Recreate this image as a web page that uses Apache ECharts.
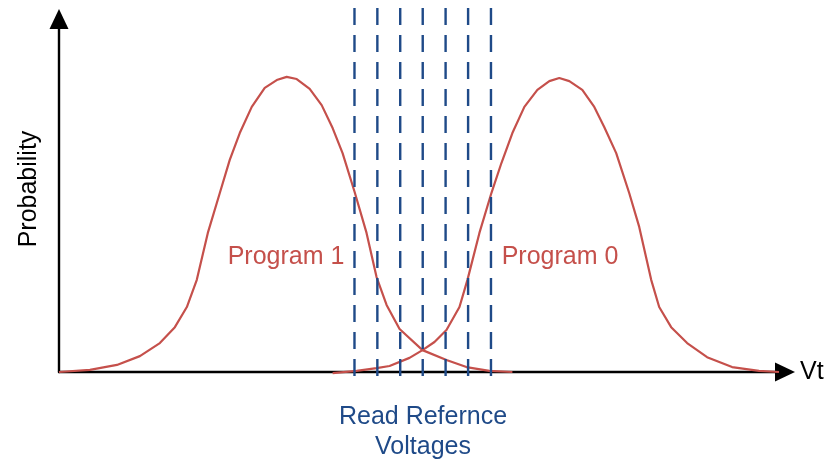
<!DOCTYPE html>
<html>
<head>
<meta charset="utf-8">
<script src="https://cdn.jsdelivr.net/npm/echarts@6/dist/echarts.min.js"></script>
<style>
  html, body { margin: 0; padding: 0; background: #fff; }
  #main { width: 840px; height: 463px; }
</style>
</head>
<body>
<div id="main"></div>
<script>
// Vt on a 0..100 scale, probability on 0..1
let program1 = [
    [0, 0], [4.26, 0.006], [7.98, 0.020], [11.14, 0.045], [13.89, 0.082], [15.96, 0.127],
    [17.61, 0.184], [18.98, 0.261], [20.50, 0.394], [22.15, 0.507], [23.52, 0.601],
    [24.90, 0.677], [26.55, 0.751], [28.34, 0.805], [29.99, 0.827], [31.36, 0.836],
    [32.74, 0.830], [34.53, 0.802], [36.18, 0.756], [37.69, 0.691], [39.06, 0.620],
    [40.72, 0.510], [42.36, 0.394], [43.74, 0.269], [45.12, 0.190], [46.91, 0.122],
    [50.07, 0.062], [53.37, 0.034], [56.12, 0.014], [59.28, 0.003], [62.45, 0]
];
let program0 = [
    [37.69, -0.003], [40.99, 0.003], [43.74, 0.011], [45.53, 0.017], [48.28, 0.040],
    [50.07, 0.062], [51.72, 0.085], [53.37, 0.119], [55.16, 0.184], [56.26, 0.261],
    [57.91, 0.394], [59.56, 0.507], [60.94, 0.592], [62.45, 0.677], [64.10, 0.751],
    [65.89, 0.799], [67.54, 0.824], [68.91, 0.833], [70.29, 0.824], [72.08, 0.799],
    [73.73, 0.751], [75.10, 0.694], [76.75, 0.620], [78.54, 0.507], [79.92, 0.411],
    [81.57, 0.261], [82.67, 0.184], [84.32, 0.127], [86.52, 0.082], [89.27, 0.042],
    [92.71, 0.014], [96.42, 0.003], [99.17, 0]
];
let refVoltages = [40.7, 43.85, 47.0, 50.1, 53.25, 56.35, 59.5];
let refSpan = [1.031, -0.037]; // top, bottom of the dashed lines

window.addEventListener('load', function () {
    let chart = echarts.init(document.getElementById('main'));
    let red = '#c5504b';
    let blue = '#1f4a88';
    let font = '"Liberation Sans", Arial, sans-serif';

    let series = [
        {
            name: 'Program 1', type: 'line', data: program1,
            showSymbol: false, clip: false, z: 3,
            lineStyle: { color: red, width: 2.2 }
        },
        {
            name: 'Program 0', type: 'line', data: program0,
            showSymbol: false, clip: false, z: 3,
            lineStyle: { color: red, width: 2.2 }
        }
    ];
    refVoltages.forEach(function (v) {
        series.push({
            type: 'line', data: [[v, refSpan[0]], [v, refSpan[1]]],
            showSymbol: false, clip: false, z: 4, silent: true,
            lineStyle: { color: blue, width: 2.4, type: [17, 10] }
        });
    });

    let option = {
        animation: false,
        grid: { left: 59, right: 55, top: 19, bottom: 91 },
        xAxis: {
            type: 'value', min: 0, max: 100,
            name: 'Vt', nameLocation: 'end', nameGap: 15,
            nameTextStyle: { color: '#000', fontSize: 25, fontFamily: font, padding: [6, 0, 0, 0] },
            axisLine: {
                lineStyle: { color: '#000', width: 2.4 },
                symbol: ['none', 'triangle'], symbolSize: [19, 20]
            },
            axisTick: { show: false }, axisLabel: { show: false }, splitLine: { show: false }
        },
        yAxis: {
            type: 'value', min: 0, max: 1,
            axisLine: {
                show: true,
                lineStyle: { color: '#000', width: 2.4 },
                symbol: ['none', 'triangle'], symbolSize: [19, 20]
            },
            axisTick: { show: false }, axisLabel: { show: false }, splitLine: { show: false }
        },
        graphic: [
            { type: 'text', x: 29, y: 189, rotation: Math.PI / 2,
              style: { text: 'Probability', font: '25px ' + font, fill: '#000', align: 'center', verticalAlign: 'middle' } },
            { type: 'text', x: 286, y: 257,
              style: { text: 'Program 1', font: '25px ' + font, fill: red, align: 'center', verticalAlign: 'middle' } },
            { type: 'text', x: 560, y: 257,
              style: { text: 'Program 0', font: '25px ' + font, fill: red, align: 'center', verticalAlign: 'middle' } },
            { type: 'text', x: 423, y: 417,
              style: { text: 'Read Refernce', font: '25px ' + font, fill: blue, align: 'center', verticalAlign: 'middle' } },
            { type: 'text', x: 423, y: 447,
              style: { text: 'Voltages', font: '25px ' + font, fill: blue, align: 'center', verticalAlign: 'middle' } }
        ],
        series: series
    };
    chart.setOption(option);
}, false);
</script>
</body>
</html>
